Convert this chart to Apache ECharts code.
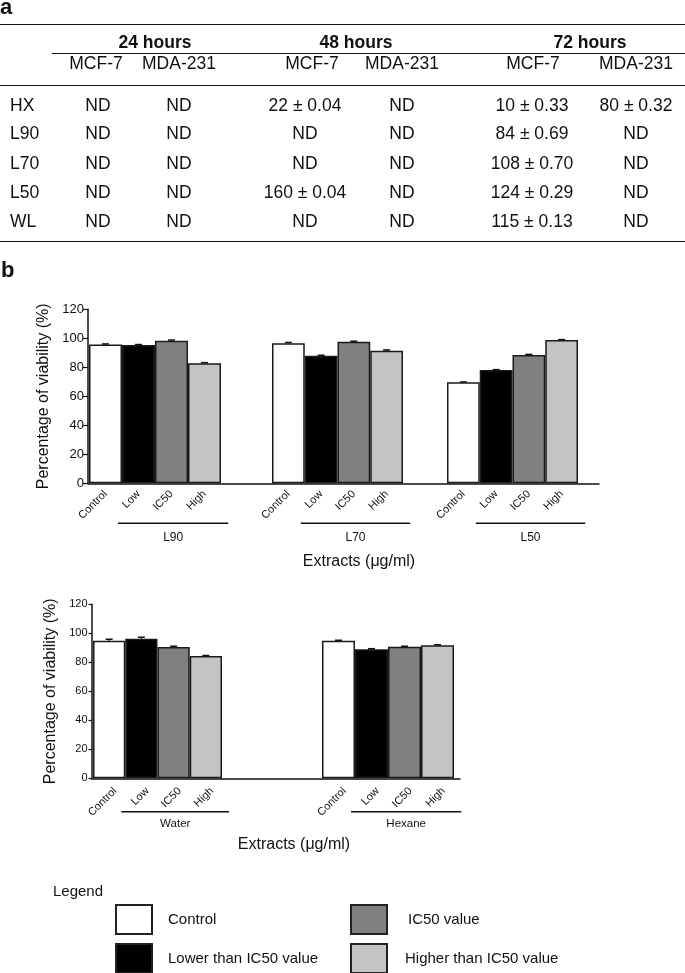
<!DOCTYPE html>
<html><head><meta charset="utf-8">
<script src="https://cdn.jsdelivr.net/npm/echarts@6/dist/echarts.min.js"></script>
<style>
html,body{margin:0;padding:0;background:#fff;}
#chart{position:absolute;left:0;top:0;width:685px;height:973px;}
#table{position:absolute;left:0;top:0;width:685px;height:250px;font-family:"Liberation Sans",Arial,Helvetica,sans-serif;color:#111;font-size:17.5px;pointer-events:none;}
.t{position:absolute;white-space:nowrap;line-height:20px;height:20px;}
.c{transform:translateX(-50%);}
.rule{position:absolute;height:0;}
</style></head><body>
<div id="chart"></div><div id="table"></div>
<script>
// ---------- data ----------
const timeHeaders = ['24 hours', '48 hours', '72 hours'];
const cellLines = ['MCF-7', 'MDA-231', 'MCF-7', 'MDA-231', 'MCF-7', 'MDA-231'];
const rowLabels = ['HX', 'L90', 'L70', 'L50', 'WL'];
const rowHX  = ['ND', 'ND', '22 ± 0.04', 'ND', '10 ± 0.33', '80 ± 0.32'];
const rowL90 = ['ND', 'ND', 'ND', 'ND', '84 ± 0.69', 'ND'];
const rowL70 = ['ND', 'ND', 'ND', 'ND', '108 ± 0.70', 'ND'];
const rowL50 = ['ND', 'ND', '160 ± 0.04', 'ND', '124 ± 0.29', 'ND'];
const rowWL  = ['ND', 'ND', 'ND', 'ND', '115 ± 0.13', 'ND'];

const levelTicks = ['Control', 'Low', 'IC50', 'High'];
const levelNames = ['Control', 'Lower than IC50 value', 'IC50 value', 'Higher than IC50 value'];
const extractsTop = ['L90', 'L70', 'L50'];
const extractsBottom = ['Water', 'Hexane'];

const viabilityL90 = [95.7, 95.4, 98.3, 82.8];
const viabilityL70 = [96.6, 88.0, 97.7, 91.4];
const viabilityL50 = [69.7, 78.1, 88.5, 98.8];
const viabilityWater = [94.9, 96.3, 90.6, 84.3];
const viabilityHexane = [94.9, 89.0, 90.8, 91.7];

const errorL90 = [0.4, 0.3, 0.5, 0.4];
const errorL70 = [0.5, 0.3, 0.3, 0.6];
const errorL50 = [0.2, 0.3, 0.4, 0.3];
const errorWater = [1.0, 1.0, 0.5, 0.4];
const errorHexane = [0.3, 0.4, 0.3, 0.4];

const yMin = 0, yMax = 120, yStep = 20;

// ---------- table (HTML) ----------
const FONT = '"Liberation Sans", Arial, Helvetica, sans-serif';
const INK = '#111';
const T = document.getElementById('table');
function txt(s, x, cy, centered, extra) {
  const d = document.createElement('div');
  d.className = 't' + (centered ? ' c' : '');
  d.textContent = s;
  d.style.left = x + 'px';
  d.style.top = (cy - 10) + 'px';
  if (extra) Object.assign(d.style, extra);
  T.appendChild(d);
}
function rule(y, x0, x1, w) {
  const d = document.createElement('div');
  d.className = 'rule';
  d.style.left = x0 + 'px'; d.style.width = (x1 - x0) + 'px';
  d.style.top = (y - w / 2) + 'px';
  d.style.borderTop = w + 'px solid ' + INK;
  T.appendChild(d);
}
txt('a', 0, 7, false, {fontWeight: 'bold', fontSize: '22px'});
rule(25, 0, 685, 1.6);
const headX = [155, 356, 590];
timeHeaders.forEach((h, i) => txt(h, headX[i], 41.7, true, {fontWeight: 'bold'}));
rule(54, 52, 685, 1.2);
const subX = [96, 179, 312, 402, 533, 636];
cellLines.forEach((h, i) => txt(h, subX[i], 63.3, true));
rule(86, 0, 685, 1.6);
const dataX = [98, 179, 305, 402, 532, 636];
const rowY = [105, 133.3, 162.7, 191.7, 220.7];
const tableRows = [rowHX, rowL90, rowL70, rowL50, rowWL];
tableRows.forEach((r, ri) => {
  txt(rowLabels[ri], 10, rowY[ri], false);
  r.forEach((v, ci) => txt(v, dataX[ci], rowY[ri], true));
});
rule(241.5, 0, 685, 1.6);

// ---------- chart ----------
const levelColors = ['#ffffff', '#000000', '#808080', '#c4c4c4'];
const panels = [
  {names: extractsTop, vals: [viabilityL90, viabilityL70, viabilityL50], errs: [errorL90, errorL70, errorL50],
   top: 309.3, height: 174, x0: 88, x1: 599, subs: [[89, 132], [272, 131], [447, 131]],
   tickFont: 13, tickLen: 5, nameGap: 36, lineDy: 40, textDy: 14, groupFont: 12, catFont: 11,
   catLabel: {margin: 9}, extractsX: 359, extractsY: 562},
  {names: extractsBottom, vals: [viabilityWater, viabilityHexane], errs: [errorWater, errorHexane],
   top: 604.3, height: 174, x0: 91.5, x1: 460, subs: [[93, 129], [322, 132]],
   tickFont: 11, tickLen: 3, nameGap: 33, lineDy: 33.5, textDy: 12.5, groupFont: 11.5, catFont: 11,
   catLabel: {margin: 5, verticalAlign: 'top', lineHeight: 17}, extractsX: 294, extractsY: 845}
];

const grid = [], xAxis = [], yAxis = [], series = [];
const groupAxes = [];
panels.forEach((p, pi) => {
  const gi = grid.length;
  grid.push({left: p.x0, width: p.x1 - p.x0, top: p.top, height: p.height, outerBoundsMode: 'none', containLabel: false});
  xAxis.push({gridIndex: gi, type: 'category', data: [''], axisLine: {show: true, lineStyle: {color: INK, width: 1.5}},
    axisTick: {show: false}, axisLabel: {show: false}, splitLine: {show: false}});
  yAxis.push({gridIndex: gi, type: 'value', min: yMin, max: yMax, interval: yStep,
    axisLine: {show: true, lineStyle: {color: INK, width: 1.5}},
    axisTick: {show: true, length: p.tickLen, lineStyle: {color: INK, width: 1.2}},
    axisLabel: {fontSize: p.tickFont, color: INK, margin: 4, fontFamily: FONT},
    splitLine: {show: false},
    name: 'Percentage of viability (%)', nameLocation: 'middle', nameGap: p.nameGap,
    nameTextStyle: {fontSize: 16, color: INK, fontFamily: FONT}});
  p.names.forEach((gname, k) => {
    const g = grid.length;
    grid.push({left: p.subs[k][0], width: p.subs[k][1], top: p.top, height: p.height, outerBoundsMode: 'none', containLabel: false});
    const xi = xAxis.length;
    xAxis.push({gridIndex: g, type: 'category', data: levelTicks,
      axisLine: {show: false}, axisTick: {show: false}, splitLine: {show: false},
      axisLabel: Object.assign({rotate: 45, interval: 0, fontSize: p.catFont, color: INK, fontFamily: FONT}, p.catLabel)});
    const yi = yAxis.length;
    yAxis.push({gridIndex: g, type: 'value', min: yMin, max: yMax, show: false});
    groupAxes.push({xi, yi, name: gname, panel: p});
    const vals = p.vals[k], errs = p.errs[k];
    levelNames.forEach((ln, j) => {
      series.push({name: ln, type: 'bar', xAxisIndex: xi, yAxisIndex: yi,
        data: vals.map((v, i) => i === j ? v : '-'),
        barWidth: '100%', barGap: '-100%',
        itemStyle: {color: levelColors[j], borderColor: '#1a1a1a', borderWidth: 1.5}});
    });
    series.push({type: 'custom', name: 'err', xAxisIndex: xi, yAxisIndex: yi, z: 5,
      data: vals.map((v, i) => [i, v, errs[i]]),
      encode: {x: 0, y: 1},
      renderItem: (params, api) => {
        const x = api.value(0), v = api.value(1), e = api.value(2);
        const t = api.coord([x, v + e]), b = api.coord([x, v]);
        return {type: 'group', children: [
          {type: 'line', shape: {x1: t[0] - 3.5, y1: t[1], x2: t[0] + 3.5, y2: t[1]}, style: {stroke: INK, lineWidth: 1.5}},
          {type: 'line', shape: {x1: t[0], y1: t[1], x2: t[0], y2: b[1]}, style: {stroke: INK, lineWidth: 1.5}}
        ]};
      }});
  });
});

// one legend component per entry, arranged as in the figure (2 x 2)
const legendSlots = [[115, 904, 11], [115, 943, 11], [350, 904, 16], [350, 943, 13]];
const legend = levelNames.map((ln, j) => ({
  data: [ln], orient: 'horizontal', left: legendSlots[j][0], top: legendSlots[j][1],
  itemWidth: 36, itemHeight: 29, padding: 0, icon: 'rect', selectedMode: false,
  itemStyle: {borderColor: '#222', borderWidth: 2},
  textStyle: {fontSize: 15, color: INK, fontFamily: FONT, padding: [0, 0, 0, legendSlots[j][2]]}
}));

const option = {
  animation: false,
  backgroundColor: '#fff',
  grid, xAxis, yAxis, series, legend
};
const chart = echarts.init(document.getElementById('chart'));
chart.setOption(option);

// annotations tied to the axes
const graphic = [];
function gtext(s, x, y, size, weight, align) {
  graphic.push({type: 'text', silent: true, style: {text: s, x, y, fill: INK,
    font: (weight || 'normal') + ' ' + size + 'px ' + FONT,
    textAlign: align || 'center', textVerticalAlign: 'middle', align: align || 'center', verticalAlign: 'middle'}});
}
groupAxes.forEach(ga => {
  const p = ga.panel;
  const lowX = chart.convertToPixel({xAxisIndex: ga.xi}, levelTicks[1]);
  const highX = chart.convertToPixel({xAxisIndex: ga.xi}, levelTicks[3]);
  const slot = (highX - lowX) / 2;
  const baseY = chart.convertToPixel({yAxisIndex: ga.yi}, yMin);
  const lx0 = lowX - 0.62 * slot, lx1 = highX + 0.72 * slot;
  const ly = baseY + p.lineDy;
  graphic.push({type: 'line', silent: true, shape: {x1: lx0, y1: ly, x2: lx1, y2: ly}, style: {stroke: INK, lineWidth: 1.6}});
  gtext(ga.name, (lx0 + lx1) / 2, ly + p.textDy, p.groupFont);
});
panels.forEach(p => gtext('Extracts (μg/ml)', p.extractsX, p.extractsY, 16));
gtext('b', 1, 271, 22, 'bold', 'left');
gtext('Legend', 53, 892, 15, 'normal', 'left');
chart.setOption({graphic});
</script></body></html>
